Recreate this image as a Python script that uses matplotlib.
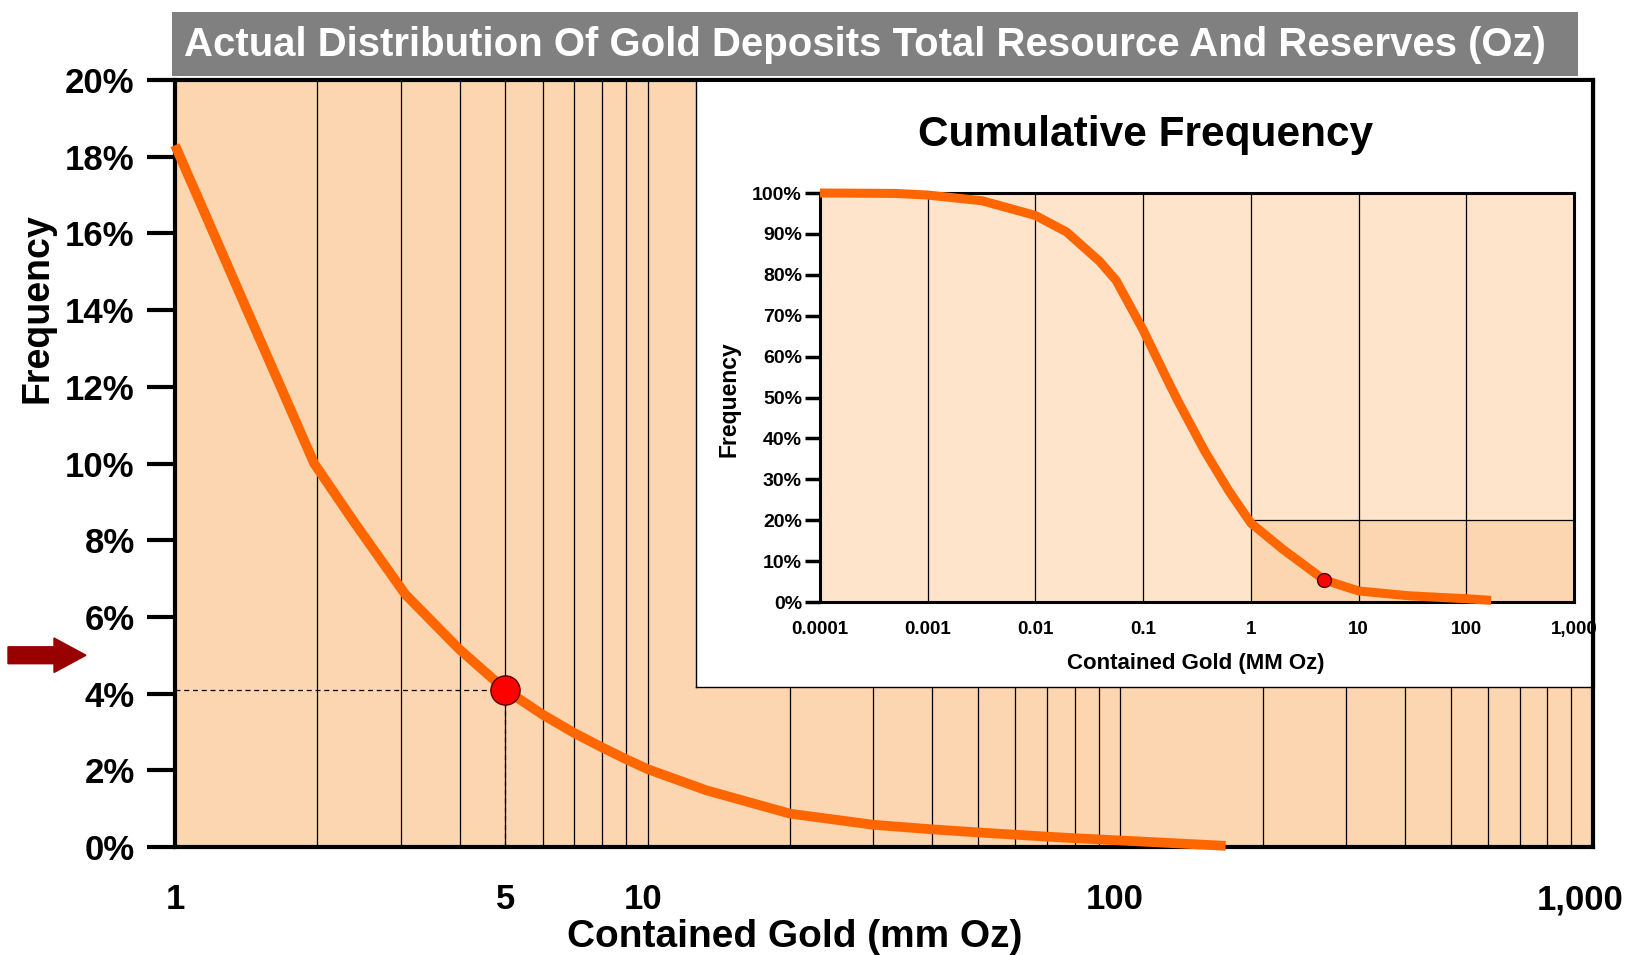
import matplotlib
matplotlib.use("Agg")
import matplotlib.pyplot as plt
from matplotlib.patches import Rectangle, FancyArrow
from matplotlib.ticker import FixedLocator, NullLocator
import matplotlib.transforms as mtransforms

plt.rcParams["font.family"] = ["Liberation Sans", "DejaVu Sans"]
plt.rcParams["font.weight"] = "bold"

# ---- data ----
# frequency distribution (main chart)
gold_mm_oz = [1, 1.207, 1.42, 1.673, 1.97, 2.4, 3.07, 4, 5, 6, 7, 8, 9, 10,
              13.3, 20, 30, 40, 50, 60, 70, 80, 100, 167]
frequency_pct = [18.3, 16.0, 14.0, 12.0, 10.0, 8.45, 6.59, 5.15, 4.1, 3.45, 2.97, 2.6, 2.29, 2.03,
                 1.48, 0.87, 0.58, 0.46, 0.38, 0.32, 0.27, 0.23, 0.17, 0.03]
marker_x, marker_y = 5, 4.1
arrow_level = 5.0

main_xticks = [1, 5, 10, 100, 1000]
main_xticklabels = ["1", "5", "10", "100", "1,000"]
main_yticks = [0, 2, 4, 6, 8, 10, 12, 14, 16, 18, 20]

# cumulative frequency (inset)
cum_gold = [0.0001, 0.0005, 0.001, 0.0032, 0.01, 0.0194, 0.0394, 0.0562, 0.1, 0.163, 0.207,
            0.371, 0.62, 1, 2, 4.8, 10, 30, 100, 170]
cum_freq_pct = [100, 99.9, 99.5, 98.1, 94.5, 90.5, 83.3, 78.6, 66.5, 55.0, 49.5,
                37.0, 27.3, 19.3, 12.8, 5.4, 2.7, 1.5, 0.8, 0.4]
cum_marker_x, cum_marker_y = 4.8, 5.4
highlight_x = [1, 1000]
highlight_level = 20

inset_xticks = [0.0001, 0.001, 0.01, 0.1, 1, 10, 100, 1000]
inset_xticklabels = ["0.0001", "0.001", "0.01", "0.1", "1", "10", "100", "1,000"]
inset_yticks = list(range(0, 101, 10))

PEACH = "#FCD6B0"
LIGHT_PEACH = "#FDE4CA"
ORANGE = "#FF6600"

W, H = 1633, 955
fig = plt.figure(figsize=(W / 100, H / 100), dpi=100)


def fx(px):
    return px / W


def fy(py):
    return 1 - py / H


# ---- main axes ----
L, R, T, B = 175, 1593, 80, 847
ax = fig.add_axes([fx(L), fy(B), fx(R - L), (B - T) / H], zorder=1)
ax.set_facecolor(PEACH)
ax.set_xscale("log")
ax.set_xlim(1, 1000)
ax.set_ylim(0, 20)

grid_x = [m * 10 ** e for e in range(3) for m in range(2, 11)]
for gx in grid_x:
    ax.axvline(gx, color="black", lw=0.9, zorder=1)

ax.plot(gold_mm_oz, frequency_pct, color=ORANGE, lw=7, solid_capstyle="butt",
        solid_joinstyle="round", zorder=3, clip_on=False)
ax.plot([1, marker_x], [marker_y, marker_y], ls=(0, (4, 3)), color="black", lw=0.9, zorder=2)
ax.plot([marker_x, marker_x], [0, marker_y], ls=(0, (4, 3)), color="black", lw=0.9, zorder=2)
ax.plot([marker_x], [marker_y], "o", ms=21, mfc="#FF0000", mec="#550000", mew=1, zorder=4)

ax.xaxis.set_major_locator(FixedLocator(main_xticks))
ax.xaxis.set_minor_locator(NullLocator())
ax.set_xticklabels(main_xticklabels)
ax.tick_params(axis="x", length=0, pad=26, labelsize=25)
label_shift_px = [0, 0, -5, -6, -13]
for lab, dx in zip(ax.get_xticklabels(), label_shift_px):
    lab.set_transform(lab.get_transform() +
                      mtransforms.ScaledTranslation(dx / 100, 0, fig.dpi_scale_trans))
ax.set_yticks(main_yticks)
ax.set_yticklabels([f"{v}%" for v in main_yticks])
ax.tick_params(axis="y", length=20, width=3, pad=9, labelsize=25, direction="out")
for s in ax.spines.values():
    s.set_linewidth(3)

# arrow pointing at the level
trans = mtransforms.blended_transform_factory(fig.transFigure, ax.transData)
arr = FancyArrow(fx(8), arrow_level, fx(78), 0, width=0.44, head_width=0.9,
                 head_length=fx(32), length_includes_head=True,
                 color="#990000", transform=trans, clip_on=False)
fig.add_artist(arr)

fig.text(fx(38), fy(308), "Frequency", rotation=90, ha="center", va="center",
         fontsize=27, fontweight="bold")
fig.text(fx(795), fy(937), "Contained Gold (mm Oz)", ha="center", va="center",
         fontsize=28, fontweight="bold")

# title banner
fig.add_artist(Rectangle((fx(172), fy(76)), fx(1578 - 172), (76 - 12.5) / H,
                         transform=fig.transFigure, facecolor="#808080",
                         edgecolor="none"))
fig.text(fx(184), fy(45), "Actual Distribution Of Gold Deposits Total Resource And Reserves (Oz)",
         color="white", ha="left", va="center", fontsize=28.9, fontweight="bold")

# ---- inset white box ----
bx0, bx1, by0, by1 = 696, 1593, 82, 687
box = fig.add_axes([fx(bx0), fy(by1), fx(bx1 - bx0), (by1 - by0) / H], zorder=2)
box.set_facecolor("white")
box.set_xticks([])
box.set_yticks([])
for s in box.spines.values():
    s.set_linewidth(1)
box.spines["right"].set_linewidth(3)
box.spines["top"].set_visible(False)

# ---- inset axes ----
iL, iR, iT, iB = 820, 1574, 193, 602
ax2 = fig.add_axes([fx(iL), fy(iB), fx(iR - iL), (iB - iT) / H], zorder=3)
ax2.set_facecolor(LIGHT_PEACH)
ax2.set_xscale("log")
ax2.set_xlim(0.0001, 1000)
ax2.set_ylim(0, 100)
ax2.fill_between(highlight_x, 0, highlight_level, color=PEACH, lw=0, zorder=0)
ax2.plot(highlight_x, [highlight_level, highlight_level], color="black", lw=0.9, zorder=1)
for gx in inset_xticks[1:-1]:
    ax2.axvline(gx, color="black", lw=0.9, zorder=1)
ax2.plot(cum_gold, cum_freq_pct, color=ORANGE, lw=6.5, solid_capstyle="butt",
         solid_joinstyle="round", zorder=3, clip_on=False)
ax2.plot([cum_marker_x], [cum_marker_y], "o", ms=10, mfc="#FF0000", mec="#550000",
         mew=1, zorder=4)

ax2.xaxis.set_major_locator(FixedLocator(inset_xticks))
ax2.xaxis.set_minor_locator(NullLocator())
ax2.set_xticklabels(inset_xticklabels)
ax2.tick_params(axis="x", length=0, pad=14, labelsize=13.5)
ax2.set_yticks(inset_yticks)
ax2.set_yticklabels([f"{v}%" for v in inset_yticks])
ax2.tick_params(axis="y", length=11, width=2.5, pad=2, labelsize=14, direction="out")
for s in ax2.spines.values():
    s.set_linewidth(2.2)

fig.text(fx(1146), fy(135), "Cumulative Frequency", ha="center", va="center",
         fontsize=30.5, fontweight="bold")
fig.text(fx(729), fy(399), "Frequency", rotation=90, ha="center", va="center",
         fontsize=16.5, fontweight="bold")
fig.text(fx(1196), fy(663), "Contained Gold (MM Oz)", ha="center", va="center",
         fontsize=16, fontweight="bold")

fig.savefig("out.png", dpi=100)
